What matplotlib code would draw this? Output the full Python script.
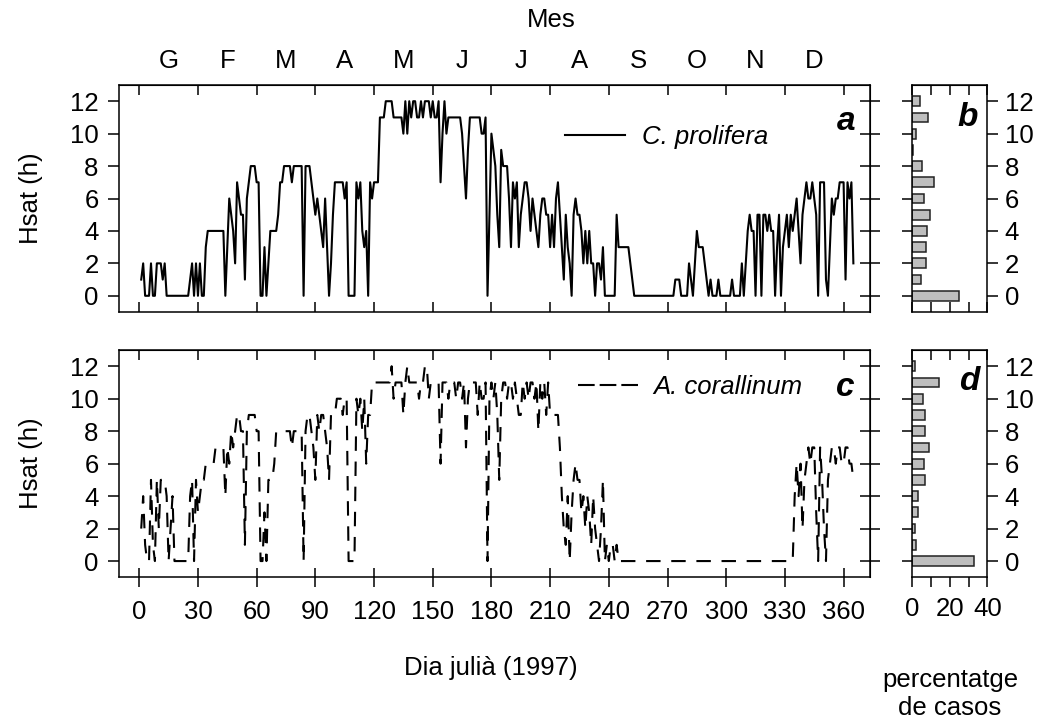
import numpy as np
import matplotlib
matplotlib.use("Agg")
import matplotlib.pyplot as plt
from matplotlib.lines import Line2D
from matplotlib.ticker import NullFormatter, FixedLocator, FixedFormatter

plt.rcParams["font.family"] = ["Liberation Sans", "DejaVu Sans"]
plt.rcParams["lines.scale_dashes"] = False

# Daily hours of light saturation (Hsat), 1997, days 1..365
prolifera = [
    1, 2, 0, 0, 0, 2, 0, 0, 2, 2,
    2, 1, 2, 0, 0, 0, 0, 0, 0, 0,
    0, 0, 0, 0, 0, 1, 2, 0, 2, 0,
    2, 0, 0, 3, 4, 4, 4, 4, 4, 4,
    4, 4, 4, 0, 3, 6, 5, 4, 2, 7,
    6, 5, 5, 1, 6, 7, 8, 8, 8, 7,
    7, 0, 0, 3, 0, 2, 4, 4, 4, 4,
    5, 7, 7, 8, 8, 8, 8, 7, 8, 8,
    8, 8, 8, 0, 8, 8, 8, 7, 6, 5,
    6, 5, 4, 3, 6, 3, 0, 2, 5, 7,
    7, 7, 7, 7, 6, 7, 0, 0, 0, 0,
    7, 6, 7, 4, 3, 4, 0, 7, 6, 7,
    7, 7, 11, 11, 11, 12, 12, 12, 12, 11,
    11, 11, 11, 11, 10, 12, 10, 12, 11, 12,
    12, 11, 11, 12, 11, 12, 12, 12, 11, 12,
    11, 11, 12, 7, 10, 12, 10, 11, 11, 11,
    11, 11, 11, 11, 10, 8, 6, 9, 11, 11,
    11, 11, 11, 11, 10, 10, 11, 0, 5, 10,
    9, 8, 5, 3, 9, 8, 8, 8, 6, 3,
    7, 6, 7, 3, 5, 6, 7, 7, 6, 4,
    6, 5, 4, 3, 5, 6, 6, 5, 5, 3,
    5, 3, 6, 7, 5, 3, 1, 5, 3, 2,
    0, 5, 6, 5, 5, 4, 2, 4, 2, 4,
    2, 2, 0, 2, 2, 1, 3, 0, 0, 0,
    0, 0, 0, 5, 3, 3, 3, 3, 3, 3,
    2, 1, 0, 0, 0, 0, 0, 0, 0, 0,
    0, 0, 0, 0, 0, 0, 0, 0, 0, 0,
    0, 0, 0, 1, 1, 1, 0, 0, 0, 0,
    2, 1, 0, 2, 4, 3, 3, 3, 2, 1,
    0, 1, 0, 0, 0, 1, 0, 0, 0, 0,
    0, 0, 1, 0, 0, 0, 0, 2, 0, 2,
    4, 5, 4, 4, 0, 5, 5, 0, 5, 5,
    4, 5, 4, 4, 0, 3, 5, 0, 3, 4,
    5, 3, 5, 4, 5, 6, 4, 2, 5, 6,
    7, 6, 6, 7, 6, 5, 0, 7, 7, 7,
    1, 0, 3, 6, 5, 6, 6, 7, 7, 7,
    1, 7, 6, 7, 2,
]

corallinum = [
    2, 4, 1, 0, 0, 5, 1, 0, 5, 2,
    5, 5, 5, 4, 0, 2, 4, 0, 0, 0,
    0, 0, 0, 0, 0, 4, 5, 0, 5, 3,
    4, 5, 5, 6, 6, 6, 6, 6, 7, 7,
    7, 7, 7, 4, 7, 6, 8, 7, 8, 9,
    9, 8, 8, 1, 8, 9, 9, 9, 9, 8,
    8, 0, 0, 3, 0, 5, 5, 5, 6, 8,
    8, 8, 8, 8, 8, 8, 8, 7, 8, 8,
    8, 8, 8, 0, 8, 9, 9, 8, 7, 5,
    9, 8, 9, 9, 8, 7, 5, 9, 9, 9,
    10, 10, 10, 9, 10, 10, 0, 0, 0, 0,
    10, 9, 10, 8, 10, 6, 9, 9, 11, 11,
    11, 11, 11, 11, 11, 11, 11, 11, 12, 10,
    11, 11, 11, 11, 9, 11, 12, 11, 11, 11,
    11, 11, 10, 11, 11, 12, 12, 10, 11, 11,
    11, 11, 11, 6, 11, 11, 11, 10, 11, 11,
    11, 10, 11, 11, 10, 11, 7, 10, 11, 11,
    11, 11, 9, 11, 10, 10, 11, 0, 10, 11,
    10, 11, 9, 5, 10, 11, 11, 10, 11, 11,
    10, 11, 10, 9, 9, 11, 10, 11, 10, 11,
    11, 10, 11, 8, 11, 10, 11, 9, 11, 9,
    9, 9, 9, 9, 7, 4, 2, 1, 4, 0,
    3, 5, 6, 5, 5, 3, 4, 2, 4, 3,
    1, 4, 2, 1, 0, 2, 5, 0, 1, 0,
    1, 1, 0, 1, 0, 0, 0, 0, 0, 0,
    0, 0, 0, 0, 0, 0, 0, 0, 0, 0,
    0, 0, 0, 0, 0, 0, 0, 0, 0, 0,
    0, 0, 0, 0, 0, 0, 0, 0, 0, 0,
    0, 0, 0, 0, 0, 0, 0, 0, 0, 0,
    0, 0, 0, 0, 0, 0, 0, 0, 0, 0,
    0, 0, 0, 0, 0, 0, 0, 0, 0, 0,
    0, 0, 0, 0, 0, 0, 0, 0, 0, 0,
    0, 0, 0, 0, 0, 0, 0, 0, 0, 0,
    0, 0, 0, 0, 4, 6, 4, 6, 2, 5,
    6, 7, 6, 7, 7, 3, 0, 7, 5, 2,
    0, 5, 6, 7, 7, 6, 7, 7, 6, 6,
    7, 7, 6, 6, 5,
]

days = np.arange(1, len(prolifera) + 1)

# Frequency distribution of Hsat (percentage of days)
hsat_levels = list(range(13))
pct_prolifera = [25.1, 4.6, 7.1, 7.1, 8.0, 9.6, 6.4, 11.4, 5.0, 0.5, 1.8, 8.5, 4.3]
pct_corallinum = [33.1, 2.0, 1.2, 3.0, 2.8, 6.9, 6.4, 8.7, 6.9, 6.9, 5.9, 14.2, 1.2]

month_labels = ["G", "F", "M", "A", "M", "J", "J", "A", "S", "O", "N", "D"]
month_centres = list(range(15, 360, 30))
day_ticks = list(range(0, 361, 30))
hsat_ticks = list(range(0, 13, 2))
pct_ticks = [0, 10, 20, 30, 40]
pct_ticklabels = ["0", "", "20", "", "40"]

FS = 18.5
PX = 0.72          # points per pixel at 100 dpi
W, H = 1052, 720
LW_AX = 1.1

fig = plt.figure(figsize=(W / 100, H / 100), dpi=100)


def box(l, t, r, b):
    return [l / W, 1 - b / H, (r - l) / W, (b - t) / H]


ax_a = fig.add_axes(box(119.3, 85, 870, 312))
ax_c = fig.add_axes(box(119.3, 350, 870, 577.3))
ax_b = fig.add_axes(box(912.3, 85, 987.3, 312))
ax_d = fig.add_axes(box(912.3, 350, 987.3, 577.3))

for ax in (ax_a, ax_b, ax_c, ax_d):
    for sp in ax.spines.values():
        sp.set_linewidth(LW_AX)
    ax.set_ylim(-1, 13)

# ---- time series panels ----
ax_a.plot(days, prolifera, color="black", lw=1.5, solid_joinstyle="round")
ax_c.plot(days, corallinum, color="black", lw=1.5,
          linestyle=(0, (10.4, 7.7)), dash_capstyle="butt")

for ax, bottom_dir, bottom_labels in ((ax_a, "in", False), (ax_c, "inout", True)):
    ax.set_xlim(-10.2, 373.5)
    ax.set_xticks(day_ticks)
    ax.set_yticks(hsat_ticks)
    blen = 10 * PX if bottom_dir == "in" else 19 * PX
    ax.tick_params(axis="x", direction=bottom_dir, length=blen, width=LW_AX,
                   labelbottom=bottom_labels, labelsize=FS, pad=9.5)
    ax.tick_params(axis="y", direction="out", length=11 * PX, width=LW_AX,
                   labelsize=FS, pad=7)
    top = ax.secondary_xaxis("top")
    top.set_xticks(day_ticks)
    top.xaxis.set_major_formatter(NullFormatter())
    top.tick_params(axis="x", direction="in", length=10 * PX, width=LW_AX)
    right = ax.secondary_yaxis("right")
    right.set_yticks(hsat_ticks)
    right.yaxis.set_major_formatter(NullFormatter())
    right.tick_params(axis="y", direction="inout", length=20 * PX, width=LW_AX)
    if ax is ax_a:
        top.xaxis.set_minor_locator(FixedLocator(month_centres))
        top.xaxis.set_minor_formatter(FixedFormatter(month_labels))
        top.tick_params(axis="x", which="minor", length=0, labelsize=FS, pad=8.6)

# legends
leg_a = ax_a.legend([Line2D([], [], color="black", lw=1.5)], ["C. prolifera"],
                    loc="center left", bbox_to_anchor=(0.5937, 0.773),
                    frameon=False, borderpad=0, borderaxespad=0,
                    handlelength=60 / 25.7, handletextpad=17 / 25.7,
                    prop={"size": FS, "style": "italic"})
leg_c = ax_c.legend([Line2D([], [], color="black", lw=1.5,
                            linestyle=(0, (12, 3.6)), dash_capstyle="butt")],
                    ["A. corallinum"],
                    loc="center left", bbox_to_anchor=(0.611, 0.8385),
                    frameon=False, borderpad=0, borderaxespad=0,
                    handlelength=60 / 25.7, handletextpad=15 / 25.7,
                    prop={"size": FS, "style": "italic"})

# ---- histogram panels ----
for ax, pct, show_x in ((ax_b, pct_prolifera, False), (ax_d, pct_corallinum, True)):
    ax.barh(hsat_levels, pct, height=0.6, left=0, color="#BEBEBE",
            edgecolor="#222222", linewidth=1.1)
    ax.set_xlim(0, 40)
    ax.set_xticks(pct_ticks)
    ax.set_yticks(hsat_ticks)
    ax.yaxis.set_ticks_position("both")
    ax.tick_params(axis="y", direction="out", length=10.5 * PX, width=LW_AX,
                   labelleft=False, labelright=True, labelsize=FS, pad=5)
    if show_x:
        ax.set_xticklabels(pct_ticklabels)
        ax.tick_params(axis="x", direction="out", length=10 * PX, width=LW_AX,
                       labelsize=FS, pad=7)
    else:
        ax.tick_params(axis="x", direction="in", length=10 * PX, width=LW_AX,
                       labelbottom=False)
    top = ax.secondary_xaxis("top")
    top.set_xticks(pct_ticks)
    top.xaxis.set_major_formatter(NullFormatter())
    top.tick_params(axis="x", direction="in", length=10 * PX, width=LW_AX)

# ---- panel letters ----
for ax, letter, (x, y) in ((ax_a, "a", (846, 121)), (ax_b, "b", (968, 118)),
                           (ax_c, "c", (845, 387)), (ax_d, "d", (969, 381))):
    fig.text(x / W, 1 - y / H, letter, fontsize=24, fontweight="bold",
             fontstyle="italic", ha="center", va="center")

# ---- axis titles ----
fig.text(551 / W, 1 - 20 / H, "Mes", fontsize=FS, ha="center", va="center")
fig.text(31 / W, 1 - 198.5 / H, "Hsat (h)", fontsize=FS, rotation=90,
         ha="center", va="center")
fig.text(31 / W, 1 - 463.6 / H, "Hsat (h)", fontsize=FS, rotation=90,
         ha="center", va="center")
fig.text(491 / W, 1 - 668 / H, "Dia julià (1997)", fontsize=FS,
         ha="center", va="center")
fig.text(950 / W, 1 - 680 / H, "percentatge", fontsize=FS, ha="center", va="center")
fig.text(950 / W, 1 - 708 / H, "de casos", fontsize=FS, ha="center", va="center")

fig.savefig("out.png", dpi=100)
